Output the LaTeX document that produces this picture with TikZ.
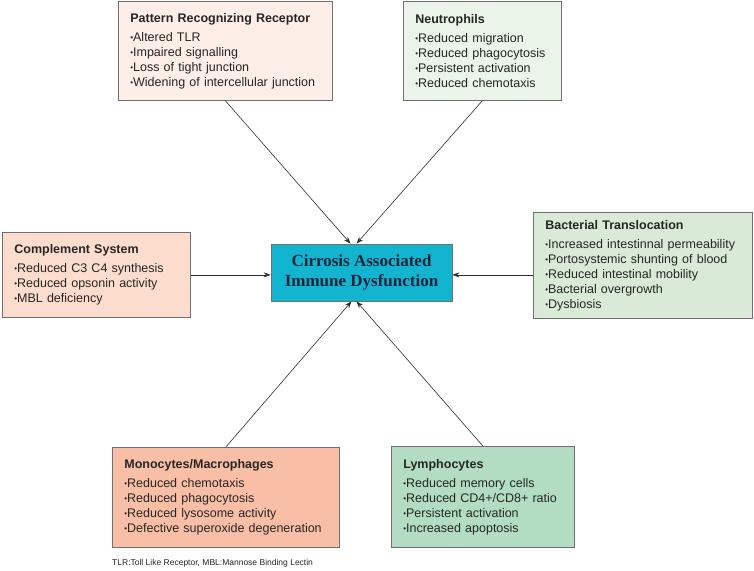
\documentclass[tikz,border=0pt]{standalone}
\usepackage{fontspec}
\setmainfont{Liberation Sans}
\newfontfamily\cadfont{Liberation Serif}
\usepackage{tikz}
\usetikzlibrary{arrows.meta,calc,positioning}
\newcommand{\bul}{\raisebox{0.6pt}{\fontsize{8}{8}\selectfont\textbullet}}
\definecolor{my_line}{RGB}{112, 112, 112}
\definecolor{my_arrow}{RGB}{45, 45, 45}
\definecolor{my_prr}{RGB}{253, 238, 231}
\definecolor{my_neutro}{RGB}{235, 244, 232}
\definecolor{my_compl}{RGB}{252, 221, 205}
\definecolor{my_bact}{RGB}{217, 235, 214}
\definecolor{my_mono}{RGB}{249, 190, 166}
\definecolor{my_lympho}{RGB}{178, 221, 194}
\definecolor{my_cad}{RGB}{18, 180, 208}
\definecolor{my_cadtext}{RGB}{20, 36, 60}
\tikzset{
  infobox/.style = {draw=my_line, line width=0.7pt, anchor=north west, align=left,
  inner xsep=12pt, inner ysep=0pt, text=black!85, font=\fontsize{12.5}{15}\selectfont},
  cadbox/.style = {draw=my_line, line width=0.7pt, fill=my_cad, text=my_cadtext, align=center,
  minimum width=181pt, minimum height=57pt, font=\cadfont\bfseries\fontsize{17}{20}\selectfont}
}

\begin{document}
\begin{tikzpicture}[x=1pt, y=-1pt, >={Stealth[length=7pt, width=5pt]},
        link/.style={->, draw=my_arrow, line width=0.6pt},
        note/.style={anchor=base west, inner sep=0pt, text=black!85, font=\fontsize{8.5}{10}\selectfont}]
    \useasboundingbox (0,0) rectangle (754,570);
    \node [cadbox] (cad) at (361.5,272.5) {Cirrosis Associated\\Immune Dysfunction};
    \node [infobox, fill=my_prr, text width=190pt, minimum height=99pt] (prr) at (118,1)
    {\textbf{Pattern Recognizing Receptor}\\[4pt]
    \bul Altered TLR\\ \bul Impaired signalling\\ \bul Loss of tight junction\\ \bul Widening of intercellular junction};
    \node [infobox, fill=my_neutro, text width=134pt, minimum height=99pt] (neutro) at (403,1)
    {\textbf{Neutrophils}\\[4pt]
    \bul Reduced migration\\ \bul Reduced phagocytosis\\ \bul Persistent activation\\ \bul Reduced chemotaxis};
    \node [infobox, fill=my_compl, text width=164pt, minimum height=85pt] (compl) at (2,232)
    {\textbf{Complement System}\\[4pt]
    \bul Reduced C3 C4 synthesis\\ \bul Reduced opsonin activity\\ \bul MBL deficiency};
    \node [infobox, fill=my_bact, text width=195pt, minimum height=106pt] (bact) at (533,212)
    {\textbf{Bacterial Translocation}\\[4pt]
    \bul Increased intestinnal permeability\\ \bul Portosystemic shunting of blood\\ \bul Reduced intestinal mobility\\
    \bul Bacterial overgrowth\\ \bul Dysbiosis};
    \node [infobox, fill=my_mono, text width=203pt, minimum height=100pt] (mono) at (112,447)
    {\textbf{Monocytes/Macrophages}\\[4pt]
    \bul Reduced chemotaxis\\ \bul Reduced phagocytosis\\ \bul Reduced lysosome activity\\ \bul Defective superoxide degeneration};
    \node [infobox, fill=my_lympho, text width=159pt, minimum height=101pt] (lympho) at (391,446)
    {\textbf{Lymphocytes}\\[4pt]
    \bul Reduced memory cells\\ \bul Reduced CD4+/CD8+ ratio\\ \bul Persistent activation\\ \bul Increased apoptosis};
    \node [note] (legend) at (112,565) {TLR:Toll Like Receptor, MBL:Mannose Binding Lectin};
    % arrows into the centre box
    \draw [link] (prr.south) -- ([xshift=-11pt]cad.north);
    \draw [link] (neutro.south) -- ([xshift=-5pt]cad.north);
    \draw [link] (compl.east) -- (compl.east -| cad.west);
    \draw [link] (compl.east -| bact.west) -- (compl.east -| cad.east);
    \draw [link] (mono.north) -- ([xshift=-10pt]cad.south);
    \draw [link] (lympho.north) -- ([xshift=-5pt]cad.south);
\end{tikzpicture}
\end{document}
